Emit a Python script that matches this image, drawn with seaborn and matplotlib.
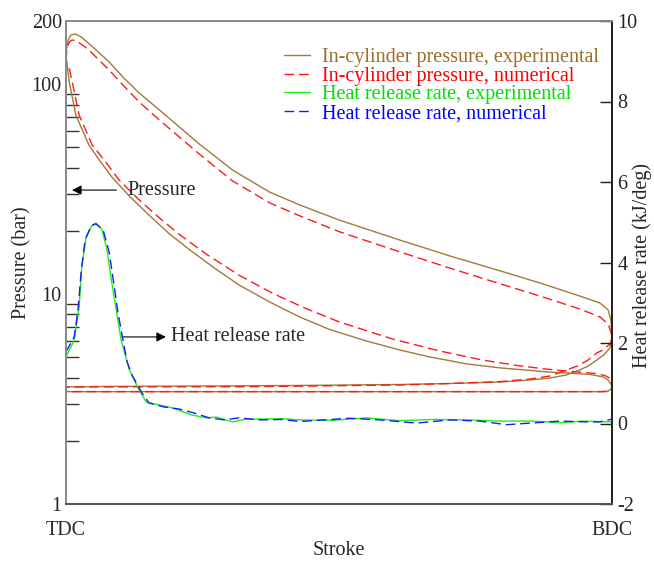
import numpy as np
import pandas as pd
import matplotlib
matplotlib.use("Agg")
import matplotlib.pyplot as plt
import seaborn as sns
from matplotlib.lines import Line2D

sns.set_theme(style="white")
plt.rcParams['font.family'] = ['Liberation Serif', 'DejaVu Serif']

# ---------------- data (stroke fraction: 0 = TDC, 1 = BDC) ----------------
# In-cylinder pressure, experimental (closed cycle path), bar
p_exp_s = [0.000, 0.004, 0.009, 0.017, 0.028, 0.051, 0.079, 0.106, 0.134, 0.171, 0.244, 0.305,
           0.373, 0.428, 0.501, 0.611, 0.703, 0.795, 0.868, 0.941, 0.978, 0.993, 0.998, 1.000,
           0.998, 0.996, 0.985, 0.972, 0.956, 0.941, 0.917, 0.886, 0.850, 0.795, 0.703, 0.611, 0.428,
           0.244, 0.061, 0.000,
           0.000, 0.500, 0.978, 0.993, 0.998,
           1.000, 0.998, 0.993, 0.984, 0.960, 0.923, 0.886, 0.850, 0.795, 0.734, 0.666, 0.611, 0.550,
           0.483, 0.428, 0.373, 0.317, 0.272, 0.226, 0.189, 0.152, 0.116, 0.084, 0.061, 0.042, 0.018,
           0.006, 0.000, 0.000]
p_exp_v = [142.3, 162.4, 171.6, 173.4, 167.9, 148.8, 127.6, 107.0, 90.8, 75.4, 51.9, 39.0,
           30.6, 26.6, 22.5, 18.1, 15.2, 12.9, 11.3, 9.79, 9.07, 8.40, 7.53, 6.39,
           5.85, 5.54, 5.13, 4.85, 4.54, 4.35, 4.12, 3.98, 3.90, 3.81, 3.75, 3.71, 3.67,
           3.65, 3.63, 3.61,
           3.43, 3.43, 3.43, 3.45, 3.53,
           3.61, 3.73, 3.90, 4.03, 4.14, 4.20, 4.25, 4.33, 4.45, 4.65, 5.02, 5.42, 5.98,
           6.78, 7.78, 9.17, 11.05, 13.3, 16.3, 19.4, 23.8, 29.3, 36.1, 43.5, 51.3, 71.3,
           102.4, 137.8, 142.3]

# In-cylinder pressure, numerical (closed cycle path), bar
p_num_s = [0.000, 0.002, 0.006, 0.011, 0.020, 0.042, 0.079, 0.106, 0.134, 0.171, 0.244, 0.305,
           0.373, 0.428, 0.501, 0.611, 0.703, 0.795, 0.868, 0.941, 0.978, 0.993, 0.998, 1.000,
           0.998, 0.984, 0.972, 0.956, 0.936, 0.917, 0.886, 0.850, 0.795, 0.703, 0.611, 0.336, 0.000,
           0.000, 0.500, 1.000,
           1.000, 0.996, 0.987, 0.972, 0.950, 0.917, 0.877, 0.826, 0.763, 0.684, 0.598, 0.501, 0.437,
           0.378, 0.317, 0.257, 0.207, 0.165, 0.134, 0.097, 0.070, 0.048, 0.024, 0.006, 0.000, 0.000]
p_num_v = [130.4, 148.8, 158.9, 162.4, 160.6, 145.5, 116.8, 98.0, 82.3, 67.5, 46.5, 34.6,
           27.2, 23.6, 19.8, 15.9, 13.3, 11.2, 9.79, 8.49, 7.78, 7.20, 6.60, 6.18,
           5.85, 5.42, 5.24, 4.85, 4.54, 4.35, 4.07, 3.94, 3.83, 3.75, 3.69, 3.62, 3.61,
           3.43, 3.43, 3.43,
           3.81, 3.98, 4.09, 4.18, 4.23, 4.30, 4.40, 4.57, 4.85, 5.36, 6.11, 7.36, 8.59,
           10.1, 12.3, 15.5, 19.3, 23.8, 28.1, 35.0, 43.5, 51.3, 71.3, 119.5, 127.6, 130.4]

# Heat release rate, experimental, kJ/deg
h_exp_s = [0.000, 0.015, 0.024, 0.029, 0.037, 0.048, 0.055, 0.066, 0.075, 0.084, 0.092, 0.101, 0.110,
           0.116, 0.134, 0.147, 0.171, 0.194, 0.231, 0.257, 0.275, 0.305, 0.330, 0.354, 0.396, 0.428,
           0.488, 0.550, 0.611, 0.672, 0.734, 0.795, 0.855, 0.905, 0.947, 1.000]
h_exp_v = [1.65, 2.07, 2.89, 3.89, 4.63, 4.93, 4.98, 4.81, 4.31, 3.49, 2.82, 2.07, 1.63,
           1.33, 0.83, 0.53, 0.46, 0.39, 0.21, 0.14, 0.16, 0.04, 0.11, 0.11, 0.12, 0.09,
           0.08, 0.14, 0.07, 0.10, 0.09, 0.06, 0.06, 0.02, 0.06, 0.04]

# Heat release rate, numerical, kJ/deg
h_num_s = [0.000, 0.015, 0.022, 0.028, 0.035, 0.046, 0.055, 0.068, 0.079, 0.088, 0.095, 0.105, 0.112,
           0.121, 0.139, 0.152, 0.180, 0.207, 0.235, 0.262, 0.290, 0.317, 0.354, 0.396, 0.428, 0.519,
           0.574, 0.642, 0.703, 0.758, 0.807, 0.850, 0.905, 0.950, 0.978, 1.000]
h_num_v = [1.78, 2.15, 2.82, 3.81, 4.56, 4.91, 4.96, 4.81, 4.26, 3.44, 2.77, 2.02, 1.53,
           1.20, 0.76, 0.51, 0.41, 0.36, 0.26, 0.14, 0.09, 0.14, 0.09, 0.10, 0.05, 0.13,
           0.09, 0.01, 0.09, 0.06, -0.03, 0.01, 0.06, 0.04, 0.04, 0.11]

x_tick_pos = [0, 1]
x_tick_labels = ["TDC", "BDC"]
p_ticks = [1, 10, 100, 200]
p_tick_labels = ["1", "10", "100", "200"]
h_ticks = [-2, 0, 2, 4, 6, 8, 10]

labels = ["In-cylinder pressure, experimental", "In-cylinder pressure, numerical",
          "Heat release rate, experimental", "Heat release rate, numerical"]
colors = ["#A27A3A", "#FF1A1A", "#19F019", "#1A1AFF"]
text_colors = ["#9A6E2A", "#FF0000", "#00E000", "#0000FF"]

# ---------------- figure ----------------
fig = plt.figure(figsize=(6.54, 5.62), dpi=100)
ax = fig.add_axes([66 / 654, 1 - 504 / 562, (612 - 66) / 654, (504 - 21) / 562])
ax2 = ax.twinx()

dash = (0, (7, 3.5))
df_pe = pd.DataFrame({"s": p_exp_s, "p": p_exp_v})
df_pn = pd.DataFrame({"s": p_num_s, "p": p_num_v})
df_he = pd.DataFrame({"s": h_exp_s, "h": h_exp_v})
df_hn = pd.DataFrame({"s": h_num_s, "h": h_num_v})

sns.lineplot(data=df_pe, x="s", y="p", ax=ax, sort=False, estimator=None, color=colors[0], lw=1.0)
sns.lineplot(data=df_pn, x="s", y="p", ax=ax, sort=False, estimator=None, color=colors[1], lw=1.0,
             linestyle=dash)
sns.lineplot(data=df_he, x="s", y="h", ax=ax2, sort=False, estimator=None, color=colors[2], lw=1.0)
sns.lineplot(data=df_hn, x="s", y="h", ax=ax2, sort=False, estimator=None, color=colors[3], lw=1.0,
             linestyle=dash)

ax.set_yscale("log")
ax.set_xlim(0, 1)
ax.set_ylim(1, 200)
ax2.set_ylim(-2, 10)

fs = 14.5
ax.set_xticks(x_tick_pos)
ax.set_xticklabels(x_tick_labels, fontsize=fs)
ax.tick_params(axis="x", length=0, pad=12)
ax.set_yticks(p_ticks)
ax.set_yticklabels(p_tick_labels, fontsize=fs)
ax.yaxis.set_minor_locator(matplotlib.ticker.LogLocator(base=10, subs=np.arange(2, 10), numticks=20))
ax.yaxis.set_minor_formatter(matplotlib.ticker.NullFormatter())
ax.tick_params(axis="y", which="both", direction="in", length=9, width=1.0, color="#333333", pad=3)
ax.tick_params(axis="y", which="major", length=0)

ax2.set_yticks(h_ticks)
ax2.set_yticklabels([str(t) for t in h_ticks], fontsize=fs)
ax2.tick_params(axis="y", direction="in", length=9, width=1.0, color="#222222", pad=4)

ax.set_xlabel("Stroke", fontsize=fs, labelpad=1)
ax.set_ylabel("")
ax2.set_ylabel("")
fig.text(22 / 654, 1 - 263 / 562, "Pressure (bar)", fontsize=fs, rotation=90, ha="center", va="center")
fig.text(642 / 654, 1 - 266 / 562, "Heat release rate (kJ/deg)", fontsize=fs, rotation=90,
         ha="center", va="center")

for a in (ax, ax2):
    a.grid(False)
    for sp in a.spines.values():
        sp.set_linewidth(1.3)
    if a.get_legend() is not None:
        a.get_legend().remove()
for a in (ax, ax2):
    a.spines["left"].set_color("#8a8a8a")
    a.spines["top"].set_color("#8a8a8a")
    a.spines["bottom"].set_color("#555555")
    a.spines["right"].set_color("#222222")

# annotations
ax.annotate("", xy=(0.011, 31.3), xytext=(0.092, 31.3),
            arrowprops=dict(arrowstyle="-|>", color="black", lw=0.8, mutation_scale=14,
                            shrinkA=0, shrinkB=0))
ax.text(0.112, 31.3, "Pressure", fontsize=fs, va="center", ha="left")
ax.annotate("", xy=(0.183, 6.25), xytext=(0.103, 6.25),
            arrowprops=dict(arrowstyle="-|>", color="black", lw=0.8, mutation_scale=14,
                            shrinkA=0, shrinkB=0))
ax.text(0.193, 6.25, "Heat release rate", fontsize=fs, va="center", ha="left")

# legend
handles = [Line2D([], [], color=colors[0], lw=1.0),
           Line2D([], [], color=colors[1], lw=1.0, linestyle=dash),
           Line2D([], [], color=colors[2], lw=1.0),
           Line2D([], [], color=colors[3], lw=1.0, linestyle=dash)]
leg = ax2.legend(handles, labels, loc="upper left", bbox_to_anchor=(284 / 654, 1 - 48 / 562),
                 bbox_transform=fig.transFigure, frameon=False, fontsize=fs, labelspacing=-0.02,
                 handlelength=1.3, handletextpad=0.6, borderpad=0, borderaxespad=0)
for t, c in zip(leg.get_texts(), text_colors):
    t.set_color(c)

fig.savefig("out.png", dpi=100)
